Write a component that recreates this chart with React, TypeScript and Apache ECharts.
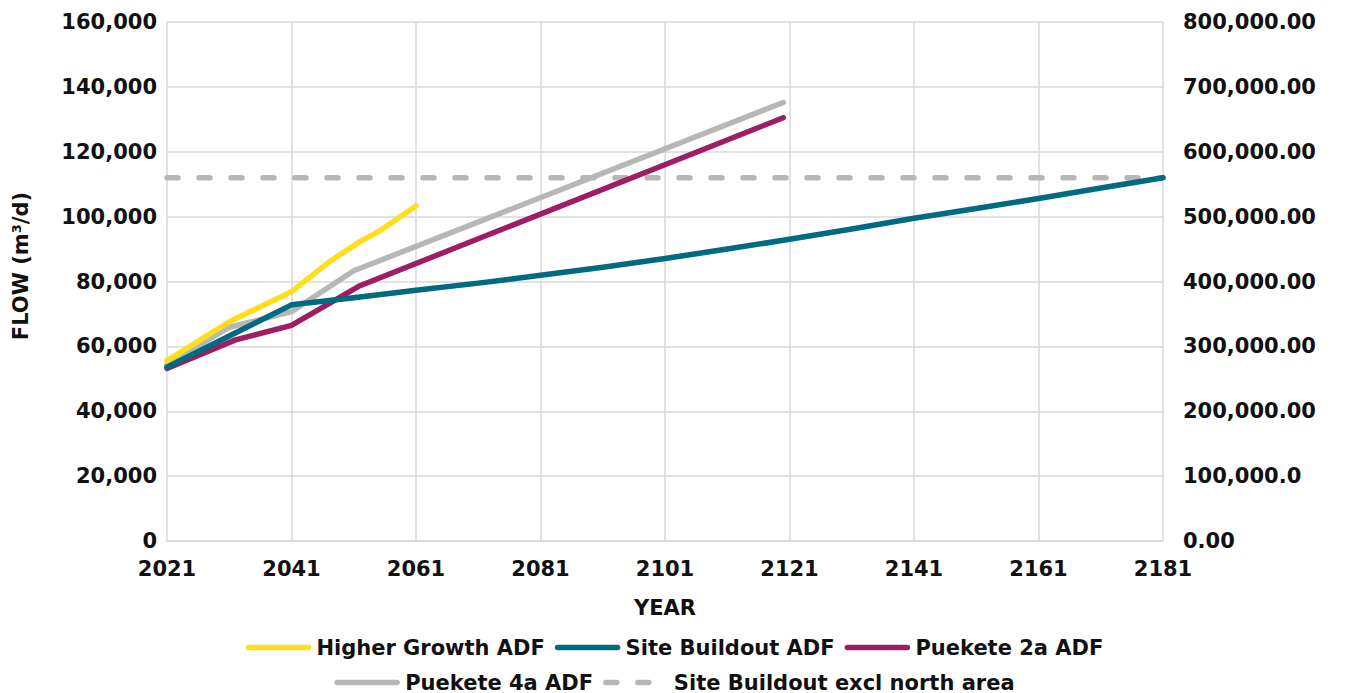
import React, { useEffect, useRef } from "react";
import * as echarts from "echarts";

// Axis definition
const BASE_YEAR = 2021;
const END_YEAR = 2181;
const rightTickLabels = [
  "0.00",
  "100,000.0",
  "200,000.00",
  "300,000.00",
  "400,000.00",
  "500,000.00",
  "600,000.00",
  "700,000.00",
  "800,000.00",
];

// Higher Growth ADF
const higherGrowthYears = [2021, 2031, 2040, 2041, 2047, 2052, 2055, 2061];
const higherGrowthFlow = [55600, 67600, 75900, 76900, 86000, 92300, 95400, 103300];

// Site Buildout ADF
const siteBuildoutYears = [2021, 2031, 2041, 2051, 2061, 2071, 2081, 2091, 2101, 2111, 2121, 2131, 2141, 2151, 2161, 2171, 2181];
const siteBuildoutFlow = [53600, 63200, 72800, 75000, 77300, 79500, 81900, 84400, 87100, 90000, 93000, 96200, 99500, 102500, 105600, 108800, 112000];

// Puekete 2a ADF
const puekete2aYears = [2021, 2032, 2041, 2052, 2120];
const puekete2aFlow = [53200, 62000, 66500, 78700, 130500];

// Puekete 4a ADF
const puekete4aYears = [2021, 2031, 2041, 2051, 2120];
const puekete4aFlow = [54300, 65900, 70700, 83300, 135200];

// Site Buildout excl north area (secondary axis)
const exclNorthYears = [2021, 2181];
const exclNorthFlow = [560000, 560000];

const FONT = "DejaVu Sans";

const pairs = (years: number[], values: number[]) =>
  years.map((y, i) => [y - BASE_YEAR, values[i]]);

export default function App() {
  const ref = useRef<HTMLDivElement>(null);

  useEffect(() => {
    if (!ref.current) return;
    const chart = echarts.init(ref.current, undefined, { renderer: "svg" });

    const lineSeries = (name: string, color: string, data: number[][], extra: any = {}) => ({
      name,
      type: "line",
      data,
      showSymbol: false,
      symbol: "none",
      smooth: false,
      lineStyle: { color, width: 5.5, cap: "round", join: "round", ...(extra.lineStyle || {}) },
      itemStyle: { color },
      yAxisIndex: extra.yAxisIndex || 0,
      z: extra.z || 2,
    });

    const legendCommon = {
      left: "center",
      padding: 0,
      itemWidth: 60,
      itemHeight: 14,
      itemGap: 10,
      itemStyle: { opacity: 0 },
      lineStyle: { width: 5.5, cap: "round" },
      textStyle: {
        fontFamily: FONT,
        fontWeight: "bold",
        fontSize: 21,
        lineHeight: 20,
        color: "#111",
        padding: [0, 0, 0, 3],
      },
    };

    chart.setOption({
      animation: false,
      backgroundColor: "#ffffff",
      textStyle: { fontFamily: FONT },
      grid: { left: 167, right: 186, top: 22, bottom: 152, containLabel: false },
      legend: [
        {
          ...legendCommon,
          top: 637,
          data: ["Higher Growth ADF", "Site Buildout ADF", "Puekete 2a ADF"],
        },
        {
          ...legendCommon,
          top: 672,
          data: ["Puekete 4a ADF", "Site Buildout excl north area"],
        },
      ],
      xAxis: {
        type: "value",
        min: 0,
        max: END_YEAR - BASE_YEAR,
        interval: 20,
        name: "YEAR",
        nameLocation: "middle",
        nameGap: 56,
        nameTextStyle: { fontFamily: FONT, fontWeight: "bold", fontSize: 21, color: "#111" },
        axisLine: { show: true, lineStyle: { color: "#d9d9d9", width: 1.5 } },
        axisTick: { show: false },
        axisLabel: {
          margin: 17,
          fontFamily: FONT,
          fontWeight: "bold",
          fontSize: 21,
          color: "#111",
          formatter: (v: number) => String(v + BASE_YEAR),
        },
        splitLine: { show: true, lineStyle: { color: "#d9d9d9", width: 1.5 } },
      },
      yAxis: [
        {
          type: "value",
          min: 0,
          max: 160000,
          interval: 20000,
          axisLine: { show: false },
          axisTick: { show: false },
          axisLabel: {
            margin: 10,
            fontFamily: FONT,
            fontWeight: "bold",
            fontSize: 21,
            color: "#111",
            formatter: (v: number) => v.toLocaleString("en-US"),
          },
          splitLine: { show: true, lineStyle: { color: "#d9d9d9", width: 1.5 } },
        },
        {
          type: "value",
          position: "right",
          min: 0,
          max: 800000,
          interval: 100000,
          axisLine: { show: false },
          axisTick: { show: false },
          axisLabel: {
            margin: 20,
            fontFamily: FONT,
            fontWeight: "bold",
            fontSize: 21,
            color: "#111",
            formatter: (v: number) => rightTickLabels[Math.round(v / 100000)] ?? "",
          },
          splitLine: { show: false },
        },
      ],
      graphic: [
        {
          type: "text",
          x: 21,
          y: 266,
          rotation: Math.PI / 2,
          style: {
            text: "FLOW (m³/d)",
            fontFamily: FONT,
            fontWeight: "bold",
            fontSize: 21,
            fill: "#111",
            textAlign: "center",
            textVerticalAlign: "middle",
          },
        },
      ],
      series: [
        lineSeries("Site Buildout excl north area", "#b7b7b7", pairs(exclNorthYears, exclNorthFlow), {
          yAxisIndex: 1,
          z: 1,
          lineStyle: { type: [11, 21], cap: "round" },
        }),
        lineSeries("Puekete 4a ADF", "#b7b7b7", pairs(puekete4aYears, puekete4aFlow), { z: 2 }),
        lineSeries("Higher Growth ADF", "#ffdf1b", pairs(higherGrowthYears, higherGrowthFlow), { z: 3 }),
        lineSeries("Puekete 2a ADF", "#9d1e62", pairs(puekete2aYears, puekete2aFlow), { z: 4 }),
        lineSeries("Site Buildout ADF", "#006a80", pairs(siteBuildoutYears, siteBuildoutFlow), { z: 5 }),
      ],
    });

    return () => chart.dispose();
  }, []);

  return (
    <div
      ref={ref}
      style={{ position: "fixed", left: 0, top: 0, width: 1349, height: 693, background: "#fff" }}
    />
  );
}
